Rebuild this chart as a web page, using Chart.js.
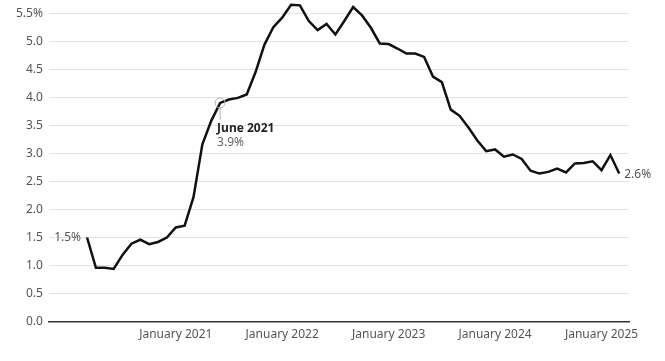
<!DOCTYPE html>
<html>
<head>
<meta charset="utf-8">
<script src="https://cdn.jsdelivr.net/npm/chart.js@4/dist/chart.umd.min.js"></script>
<style>
  html, body { margin: 0; padding: 0; background: #fff; }
  #wrap { width: 665px; height: 361px; position: relative; }
</style>
</head>
<body>
<div id="wrap"><canvas id="inflationChart"></canvas></div>
<script>
// month index 0 = January 2020, series starts March 2020
const startIndex = 2;
const values = [
  1.50, 0.96, 0.96, 0.94, 1.19, 1.39, 1.46, 1.38, 1.42, 1.50,
  1.68, 1.71, 2.22, 3.16, 3.58, 3.90, 3.96, 3.99, 4.05, 4.45, 4.94, 5.25,
  5.42, 5.65, 5.64, 5.36, 5.20, 5.31, 5.12, 5.36, 5.61, 5.46, 5.24, 4.96,
  4.95, 4.87, 4.78, 4.78, 4.72, 4.37, 4.27, 3.78, 3.67, 3.46, 3.23, 3.04,
  3.07, 2.94, 2.98, 2.90, 2.69, 2.64, 2.67, 2.73, 2.66, 2.82, 2.83, 2.86,
  2.70, 2.97, 2.64
];
const tickPositions = [12, 24, 36, 48, 60];
const tickLabels = ['January 2021', 'January 2022', 'January 2023', 'January 2024', 'January 2025'];
const yTicks = [0, 0.5, 1, 1.5, 2, 2.5, 3, 3.5, 4, 4.5, 5, 5.5];
const highlightIndex = 17; // June 2021
const highlightLabel = 'June 2021';

const FONT = '"Noto Sans", sans-serif';
const points = values.map((v, i) => ({ x: startIndex + i, y: v }));

const annotations = {
  id: 'annotations',
  afterDatasetsDraw(chart) {
    const { ctx, scales: { x, y } } = chart;
    ctx.save();
    ctx.font = '12px ' + FONT;
    ctx.textBaseline = 'middle';

    // first value
    const first = points[0];
    ctx.fillStyle = '#555';
    ctx.textAlign = 'right';
    ctx.fillText(first.y.toFixed(1) + '%', x.getPixelForValue(first.x) - 6, y.getPixelForValue(first.y));

    // last value
    const last = points[points.length - 1];
    ctx.textAlign = 'left';
    ctx.fillText('2.6%', x.getPixelForValue(last.x) + 5, y.getPixelForValue(last.y) + 1);

    // highlighted point
    const hp = points[highlightIndex - startIndex];
    const hx = x.getPixelForValue(hp.x);
    const hy = y.getPixelForValue(hp.y);
    ctx.strokeStyle = '#b5b5b5';
    ctx.lineWidth = 1;
    ctx.beginPath();
    ctx.arc(hx, hy, 5, 0, Math.PI * 2);
    ctx.stroke();
    ctx.beginPath();
    ctx.moveTo(hx, hy + 5);
    ctx.lineTo(hx, hy + 17);
    ctx.stroke();

    ctx.textAlign = 'left';
    ctx.fillStyle = '#222';
    ctx.font = 'bold 12px ' + FONT;
    ctx.fillText(highlightLabel, hx - 3, hy + 26);
    ctx.fillStyle = '#666';
    ctx.font = '12px ' + FONT;
    ctx.fillText(hp.y.toFixed(1) + '%', hx - 3, hy + 40);
    ctx.restore();
  }
};

new Chart(document.getElementById('inflationChart'), {
  type: 'line',
  data: {
    datasets: [{
      data: points,
      borderColor: '#111',
      borderWidth: 2.5,
      pointRadius: 0,
      tension: 0,
      fill: false,
      clip: false
    }]
  },
  options: {
    responsive: true,
    maintainAspectRatio: false,
    animation: false,
    layout: { padding: { top: 6, right: 36, bottom: 13, left: 10 } },
    plugins: { legend: { display: false }, tooltip: { enabled: false } },
    scales: {
      x: {
        type: 'linear',
        min: -2.3,
        max: 63.1,
        afterBuildTicks: (axis) => { axis.ticks = tickPositions.map(v => ({ value: v })); },
        ticks: {
          autoSkip: false,
          maxRotation: 0,
          padding: 6,
          color: '#555',
          font: { family: FONT, size: 12 },
          callback: (v) => tickLabels[tickPositions.indexOf(v)]
        },
        grid: { display: false, drawTicks: false },
        border: { display: true, color: '#333', width: 1.5 }
      },
      y: {
        min: 0,
        max: 5.5,
        afterBuildTicks: (axis) => { axis.ticks = yTicks.map(v => ({ value: v })); },
        ticks: {
          padding: 6,
          color: '#555',
          font: { family: FONT, size: 12 },
          callback: (v) => v === 5.5 ? '5.5%' : v.toFixed(1)
        },
        grid: { color: '#e3e3e3', drawTicks: false },
        border: { display: false }
      }
    }
  },
  plugins: [annotations]
});
</script>
</body>
</html>
